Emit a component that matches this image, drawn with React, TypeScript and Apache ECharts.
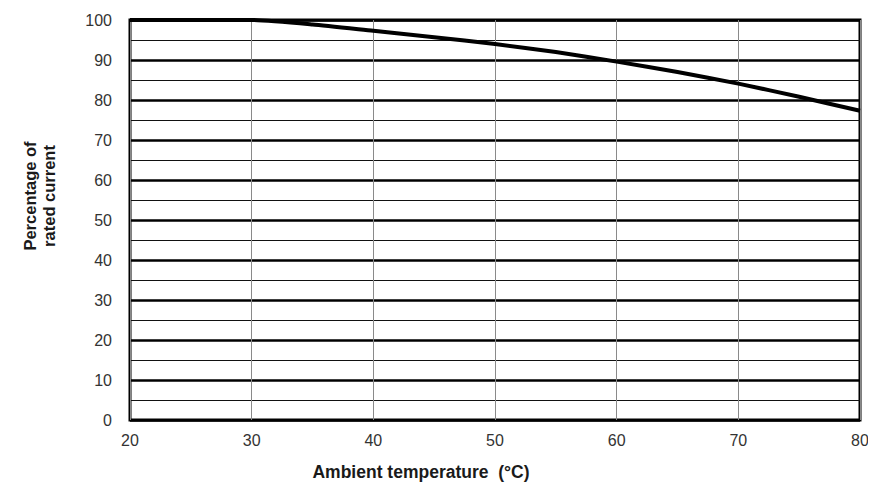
import React, { useEffect, useRef } from "react";
import * as echarts from "echarts";

// Derating curve: ambient temperature (°C) vs percentage of rated current
const temperatures = [20, 30, 35, 40, 45, 50, 55, 60, 65, 70, 75, 80];
const ratedPercent = [100, 100, 98.9, 97.3, 95.7, 94, 92, 89.6, 87, 84.1, 80.8, 77.3];

const xTicks = [20, 30, 40, 50, 60, 70, 80];
const yTicks = [0, 10, 20, 30, 40, 50, 60, 70, 80, 90, 100];

const xTitle = "Ambient temperature  (°C)";
const yTitle = "Percentage of\nrated current";

const FONT = "'Liberation Sans', Arial, sans-serif";

export default function App() {
  const ref = useRef<HTMLDivElement>(null);

  useEffect(() => {
    if (!ref.current) return;
    const chart = echarts.init(ref.current, undefined, { renderer: "svg" });
    chart.setOption({
      animation: false,
      backgroundColor: "#fff",
      grid: {
        left: 130,
        right: 16,
        top: 20,
        bottom: 73,
        show: true,
        borderColor: "#000",
        borderWidth: 3,
        backgroundColor: "transparent",
      },
      graphic: [
        {
          type: "text",
          x: 421,
          y: 472,
          style: {
            text: xTitle,
            font: `bold 17.5px ${FONT}`,
            fill: "#1a1a1a",
            align: "center",
            verticalAlign: "middle",
          },
        },
        {
          type: "text",
          x: 39,
          y: 196,
          rotation: Math.PI / 2,
          style: {
            text: yTitle,
            font: `bold 16.5px ${FONT}`,
            fill: "#1a1a1a",
            lineHeight: 19,
            align: "center",
            verticalAlign: "middle",
          },
        },
      ],
      xAxis: {
        type: "value",
        min: xTicks[0],
        max: xTicks[xTicks.length - 1],
        interval: 10,
        axisLine: { show: false },
        axisTick: { show: false },
        axisLabel: { margin: 12, fontFamily: FONT, fontSize: 16, color: "#333" },
        splitLine: { show: true, lineStyle: { color: "#8a8a8a", width: 1 } },
      },
      yAxis: {
        type: "value",
        min: yTicks[0],
        max: yTicks[yTicks.length - 1],
        interval: 10,
        axisLine: { show: false },
        axisTick: { show: false },
        axisLabel: { margin: 18, fontFamily: FONT, fontSize: 16, color: "#333" },
        splitLine: { show: true, lineStyle: { color: "#000", width: 2.5 } },
        minorTick: { show: false, splitNumber: 2 },
        minorSplitLine: { show: true, lineStyle: { color: "#111", width: 1 } },
      },
      series: [
        {
          type: "line",
          data: temperatures.map((t, i) => [t, ratedPercent[i]]),
          showSymbol: false,
          smooth: 0.2,
          lineStyle: { color: "#000", width: 4 },
          z: 5,
        },
      ],
    });
    return () => chart.dispose();
  }, []);

  return <div ref={ref} style={{ width: 876, height: 493, margin: -8 }} />;
}
